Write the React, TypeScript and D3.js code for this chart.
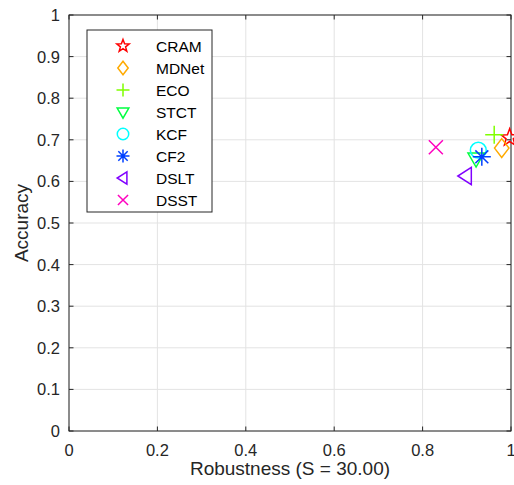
import React from "react";
import * as d3 from "d3";

const trackers = ["CRAM", "MDNet", "ECO", "STCT", "KCF", "CF2", "DSLT", "DSST"];
const robustness = [0.997, 0.979, 0.962, 0.921, 0.926, 0.934, 0.898, 0.83];
const accuracy = [0.705, 0.68, 0.712, 0.655, 0.675, 0.659, 0.613, 0.682];
const colors = ["#ff0000", "#ffaa00", "#80ff00", "#00ff40", "#00ffff", "#0040ff", "#8000ff", "#ff00bf"];
const shapes = ["star", "diamond", "plus", "triDown", "circle", "asterisk", "triLeft", "cross"];
const xTicks = [0, 0.2, 0.4, 0.6, 0.8, 1];
const yTicks = [0, 0.1, 0.2, 0.3, 0.4, 0.5, 0.6, 0.7, 0.8, 0.9, 1];

function Marker({ shape, x, y, color, s }: { shape: string; x: number; y: number; color: string; s: number }) {
  const r = s / 2;
  const common = { fill: "none", stroke: color, strokeWidth: 1.5 };
  switch (shape) {
    case "circle":
      return <circle cx={x} cy={y} r={r * 0.88} {...common} />;
    case "diamond":
      return <path d={`M${x},${y - r * 1.05}L${x + r * 0.8},${y}L${x},${y + r * 1.05}L${x - r * 0.8},${y}Z`} {...common} />;
    case "plus":
      return <path d={`M${x - r},${y}H${x + r}M${x},${y - r}V${y + r}`} {...common} />;
    case "cross": {
      const k = r * 0.78;
      return <path d={`M${x - k},${y - k}L${x + k},${y + k}M${x - k},${y + k}L${x + k},${y - k}`} {...common} />;
    }
    case "asterisk": {
      const k = r * 0.72;
      return <path d={`M${x - r},${y}H${x + r}M${x},${y - r}V${y + r}M${x - k},${y - k}L${x + k},${y + k}M${x - k},${y + k}L${x + k},${y - k}`} {...common} />;
    }
    case "triDown":
      return <path d={`M${x - r * 0.9},${y - r * 0.6}L${x + r * 0.9},${y - r * 0.6}L${x},${y + r * 0.95}Z`} {...common} />;
    case "triLeft":
      return <path d={`M${x + r * 0.6},${y - r * 0.95}L${x + r * 0.6},${y + r * 0.95}L${x - r * 0.9},${y}Z`} {...common} />;
    case "star": {
      const pts: string[] = [];
      for (let i = 0; i < 10; i++) {
        const a = -Math.PI / 2 + (i * Math.PI) / 5;
        const rr = i % 2 === 0 ? r : r * 0.42;
        pts.push(`${x + rr * Math.cos(a)},${y + rr * Math.sin(a)}`);
      }
      return <path d={`M${pts.join("L")}Z`} {...common} />;
    }
  }
  return null;
}

export default function App() {
  const W = 514, H = 485;
  const L = 69, R = 511, T = 15, B = 431;
  const x = d3.scaleLinear().domain([0, 1]).range([L, R]);
  const y = d3.scaleLinear().domain([0, 1]).range([B, T]);
  const axisColor = "#262626";
  const font = "'Liberation Sans', Arial, sans-serif";
  const legX = 87, legY = 30, legW = 125, legH = 182;
  return (
    <svg width={W} height={H} style={{ position: "absolute", left: 0, top: 0, background: "#fff" }} fontFamily={font}>
      <rect x={L} y={T} width={R - L} height={B - T} fill="#fff" />
      {xTicks.map((t) => (
        <line key={"gx" + t} x1={x(t)} x2={x(t)} y1={T} y2={B} stroke="#e3e3e3" strokeWidth={1} />
      ))}
      {yTicks.map((t) => (
        <line key={"gy" + t} x1={L} x2={R} y1={y(t)} y2={y(t)} stroke="#e3e3e3" strokeWidth={1} />
      ))}
      {xTicks.map((t) => (
        <g key={"tx" + t}>
          <line x1={x(t)} x2={x(t)} y1={B} y2={B - 4.5} stroke={axisColor} />
          <line x1={x(t)} x2={x(t)} y1={T} y2={T + 4.5} stroke={axisColor} />
          <text x={x(t)} y={B + 25} fontSize={16.5} textAnchor="middle" fill={axisColor}>{String(t)}</text>
        </g>
      ))}
      {yTicks.map((t) => (
        <g key={"ty" + t}>
          <line x1={L} x2={L + 4.5} y1={y(t)} y2={y(t)} stroke={axisColor} />
          <line x1={R} x2={R - 4.5} y1={y(t)} y2={y(t)} stroke={axisColor} />
          <text x={L - 9} y={y(t) + 6} fontSize={16.5} textAnchor="end" fill={axisColor}>{String(t)}</text>
        </g>
      ))}
      <rect x={L} y={T} width={R - L} height={B - T} fill="none" stroke={axisColor} strokeWidth={1} />
      {trackers.map((n, i) => (
        <Marker key={n} shape={shapes[i]} x={x(robustness[i])} y={y(accuracy[i])} color={colors[i]} s={18} />
      ))}
      <text x={(L + R) / 2} y={475} fontSize={19} textAnchor="middle" fill={axisColor}>Robustness (S = 30.00)</text>
      <text transform={`translate(28,${(T + B) / 2}) rotate(-90)`} fontSize={19} textAnchor="middle" fill={axisColor}>Accuracy</text>
      <rect x={legX} y={legY} width={legW} height={legH} fill="#fff" stroke={axisColor} strokeWidth={1} />
      {trackers.map((n, i) => {
        const cy = 46 + i * 22;
        return (
          <g key={"l" + n}>
            <Marker shape={shapes[i]} x={123} y={cy} color={colors[i]} s={13} />
            <text x={156} y={cy + 5.5} fontSize={15.5} fill="#000">{n}</text>
          </g>
        );
      })}
    </svg>
  );
}
